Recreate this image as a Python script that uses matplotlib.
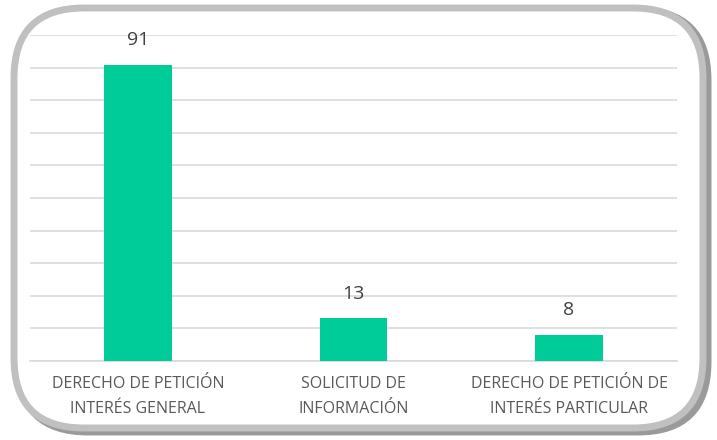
import matplotlib.pyplot as plt
from matplotlib.patches import FancyBboxPatch

categories = ["DERECHO DE PETICIÓN\nINTERÉS GENERAL",
              "SOLICITUD DE\nINFORMACIÓN",
              "DERECHO DE PETICIÓN DE\nINTERÉS PARTICULAR"]
values = [91, 13, 8]

plt.rcParams['font.family'] = ['Open Sans', 'DejaVu Sans']

fig = plt.figure(figsize=(7.17, 4.4), dpi=100)

# rounded frame with a soft shadow (inch coordinates)
shadow = FancyBboxPatch((0.18, 0.08), 6.90, 4.22,
                        boxstyle="round,pad=0,rounding_size=0.7",
                        transform=fig.dpi_scale_trans, facecolor='none',
                        edgecolor='#9a9a9a', linewidth=5, zorder=0)
frame = FancyBboxPatch((0.14, 0.12), 6.89, 4.20,
                       boxstyle="round,pad=0,rounding_size=0.7",
                       transform=fig.dpi_scale_trans, facecolor='white',
                       edgecolor='#c0c0c0', linewidth=5, zorder=1)
fig.patches.extend([shadow, frame])

ax = fig.add_axes([0.042, 0.18, 0.902, 0.74])
ax.set_zorder(2)
ax.patch.set_alpha(0)

x = range(len(categories))
bars = ax.bar(x, values, width=0.315, color='#00cc99', zorder=3)

for b, v in zip(bars, values):
    ax.annotate(str(v), (b.get_x() + b.get_width() / 2, v),
                xytext=(0, 11), textcoords='offset points',
                ha='center', va='bottom', fontsize=14, color='#404040')

ax.set_ylim(0, 100)
ax.set_xlim(-0.5, 2.5)
ax.set_yticks(range(0, 101, 10))
ax.yaxis.grid(True, color='#d9d9d9', linewidth=1.2, zorder=0)
ax.tick_params(axis='y', left=False, labelleft=False)
ax.tick_params(axis='x', length=0, pad=11)
ax.set_xticks(list(x))
ax.set_xticklabels(categories, fontsize=11.5, color='#595959', linespacing=1.75)
for s in ['top', 'right', 'left']:
    ax.spines[s].set_visible(False)
ax.spines['bottom'].set_color('#d9d9d9')
ax.spines['bottom'].set_linewidth(1.2)

fig.savefig('out.png', dpi=100)
